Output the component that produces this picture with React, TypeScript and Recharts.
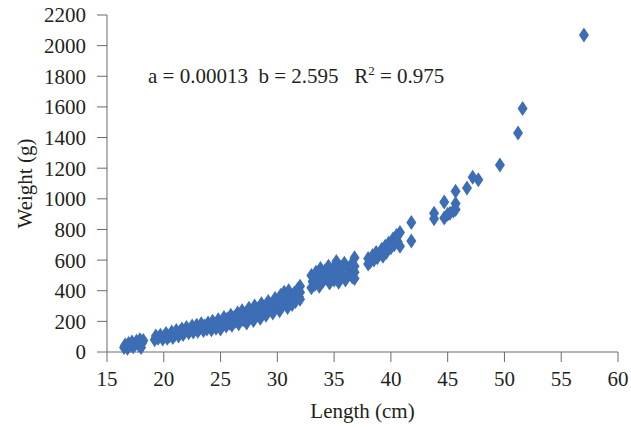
import { ScatterChart, Scatter, XAxis, YAxis } from 'recharts';

// body length (cm) and weight (g)
const lengths = [
  16.5, 16.6, 16.8, 16.9, 17.0, 17.2, 17.3, 17.5, 17.6, 17.8, 17.9, 18.0, 18.1, 18.2,
  19.2, 19.3, 19.5, 19.7, 19.9, 20.0, 20.2, 20.3, 20.5, 20.7, 20.8, 21.0, 21.1, 21.3, 21.4,
  21.6, 21.7, 21.9, 22.0, 22.2, 22.3, 22.5, 22.6, 22.8, 22.9, 23.0, 23.2, 23.3, 23.5, 23.6,
  23.8, 23.9, 24.0, 24.2, 24.3, 24.5, 24.6, 24.8, 24.9, 25.0, 25.2, 25.3, 25.5, 25.6, 25.8,
  25.9, 26.0, 26.2, 26.3, 26.5, 26.6, 26.8, 26.9, 27.0, 27.2, 27.3, 27.5, 27.6, 27.8, 27.9,
  28.0, 28.2, 28.3, 28.5, 28.6, 28.8, 28.9, 29.0, 29.2, 29.3, 29.5, 29.6, 29.8, 29.9, 30.0,
  30.2, 30.3, 30.5, 30.6, 30.8, 30.9, 31.0, 31.2, 31.3, 31.5, 31.6, 31.8, 31.9, 32.0, 32.0, 32.0,
  33.0, 33.0, 33.1, 33.3, 33.4, 33.5, 33.7, 33.8, 33.9, 34.0, 34.2, 34.3, 34.5, 34.6, 34.8,
  34.9, 35.0, 35.2, 35.3, 35.4, 35.6, 35.7, 35.9, 36.0, 36.2, 36.3, 36.5, 36.6, 36.8, 36.8,
  36.8, 36.8,
  38.0, 38.0, 38.2, 38.4, 38.5, 38.7, 38.8, 39.0, 39.2, 39.3, 39.5, 39.6, 39.8, 40.0, 40.2,
  40.3, 40.5, 40.6, 40.8, 40.8, 41.8, 41.8,
  43.8, 43.8, 44.7, 44.7, 45.0, 45.2, 45.5, 45.7, 45.7, 45.7, 46.7, 47.2, 47.7, 49.6, 51.2,
  51.6, 57.0,
];

const weights = [
  30, 45, 25, 55, 40, 65, 35, 50, 70, 45, 80, 30, 60, 75,
  80, 105, 90, 110, 85, 100, 120, 90, 105, 130, 95, 115, 140, 105, 130,
  150, 115, 135, 160, 125, 145, 170, 130, 155, 175, 135, 160, 185, 140, 170,
  150, 190, 165, 145, 200, 175, 155, 210, 180, 150, 200, 225, 170, 215, 190,
  240, 175, 225, 200, 255, 185, 235, 270, 210, 250, 190, 285, 230, 265, 205,
  300, 245, 280, 220, 315, 265, 295, 240, 330, 280, 310, 255, 350, 295, 330,
  270, 370, 310, 390, 340, 290, 400, 350, 310, 385, 330, 410, 360, 430, 390, 345,
  420, 500, 460, 440, 520, 480, 430, 545, 500, 460, 530, 480, 560, 450, 510,
  545, 470, 590, 520, 455, 555, 500, 580, 470, 540, 510, 570, 490, 615, 560,
  520, 480,
  575, 610, 590, 630, 600, 650, 615, 640, 670, 625, 690, 650, 710, 680, 740,
  700, 760, 720, 780, 690, 845, 725,
  905, 870, 980, 875, 900, 905, 920, 1050, 970, 930, 1070, 1140, 1125, 1220, 1430,
  1590, 2070,
];

const xTicks = [15, 20, 25, 30, 35, 40, 45, 50, 55, 60];
const yTicks = [0, 200, 400, 600, 800, 1000, 1200, 1400, 1600, 1800, 2000, 2200];

const points = lengths.map((l, i) => ({ length: l, weight: weights[i] }));

const FONT = '"Liberation Serif", "Times New Roman", serif';
const INK = '#231f20';
const AXIS = '#6a6a6a';
const BLUE = '#3d6db4';

const Diamond = (props: any) => {
  const { cx, cy } = props;
  if (cx == null || cy == null) return null;
  return (
    <path
      d={`M${cx},${cy - 7.5} L${cx + 5},${cy} L${cx},${cy + 7.5} L${cx - 5},${cy} Z`}
      fill={BLUE}
    />
  );
};

const tickStyle = { fontFamily: FONT, fontSize: 21, fill: INK };

export default function App() {
  return (
    <div style={{ position: 'fixed', left: 0, top: 0, width: 631, height: 427, background: '#fff' }}>
      <ScatterChart width={631} height={427} margin={{ top: 15, right: 13, bottom: 0, left: 0 }}>
        <XAxis
          type="number"
          dataKey="length"
          domain={[15, 60]}
          ticks={xTicks}
          height={75}
          tickSize={10}
          tickMargin={9}
          stroke={AXIS}
          tick={tickStyle}
          label={{
            value: 'Length (cm)',
            position: 'insideBottom',
            offset: 9,
            style: { fontFamily: FONT, fontSize: 21, fill: INK },
          }}
        />
        <YAxis
          type="number"
          dataKey="weight"
          domain={[0, 2200]}
          ticks={yTicks}
          width={107}
          tickSize={10}
          tickMargin={11}
          stroke={AXIS}
          tick={tickStyle}
          label={{
            value: 'Weight (g)',
            angle: -90,
            position: 'insideLeft',
            offset: 25,
            style: { fontFamily: FONT, fontSize: 21, fill: INK, textAnchor: 'middle' },
          }}
        />
        <Scatter data={points} shape={Diamond} isAnimationActive={false} />
      </ScatterChart>
      <svg
        width={631}
        height={427}
        style={{ position: 'absolute', left: 0, top: 0, pointerEvents: 'none' }}
      >
        <text x={148} y={83} fontFamily={FONT} fontSize={21} fill={INK} xmlSpace="preserve">
          {'a = 0.00013  b = 2.595   R'}
          <tspan fontSize={13} dy={-8}>2</tspan>
          <tspan dy={8}>{' = 0.975'}</tspan>
        </text>
      </svg>
    </div>
  );
}
